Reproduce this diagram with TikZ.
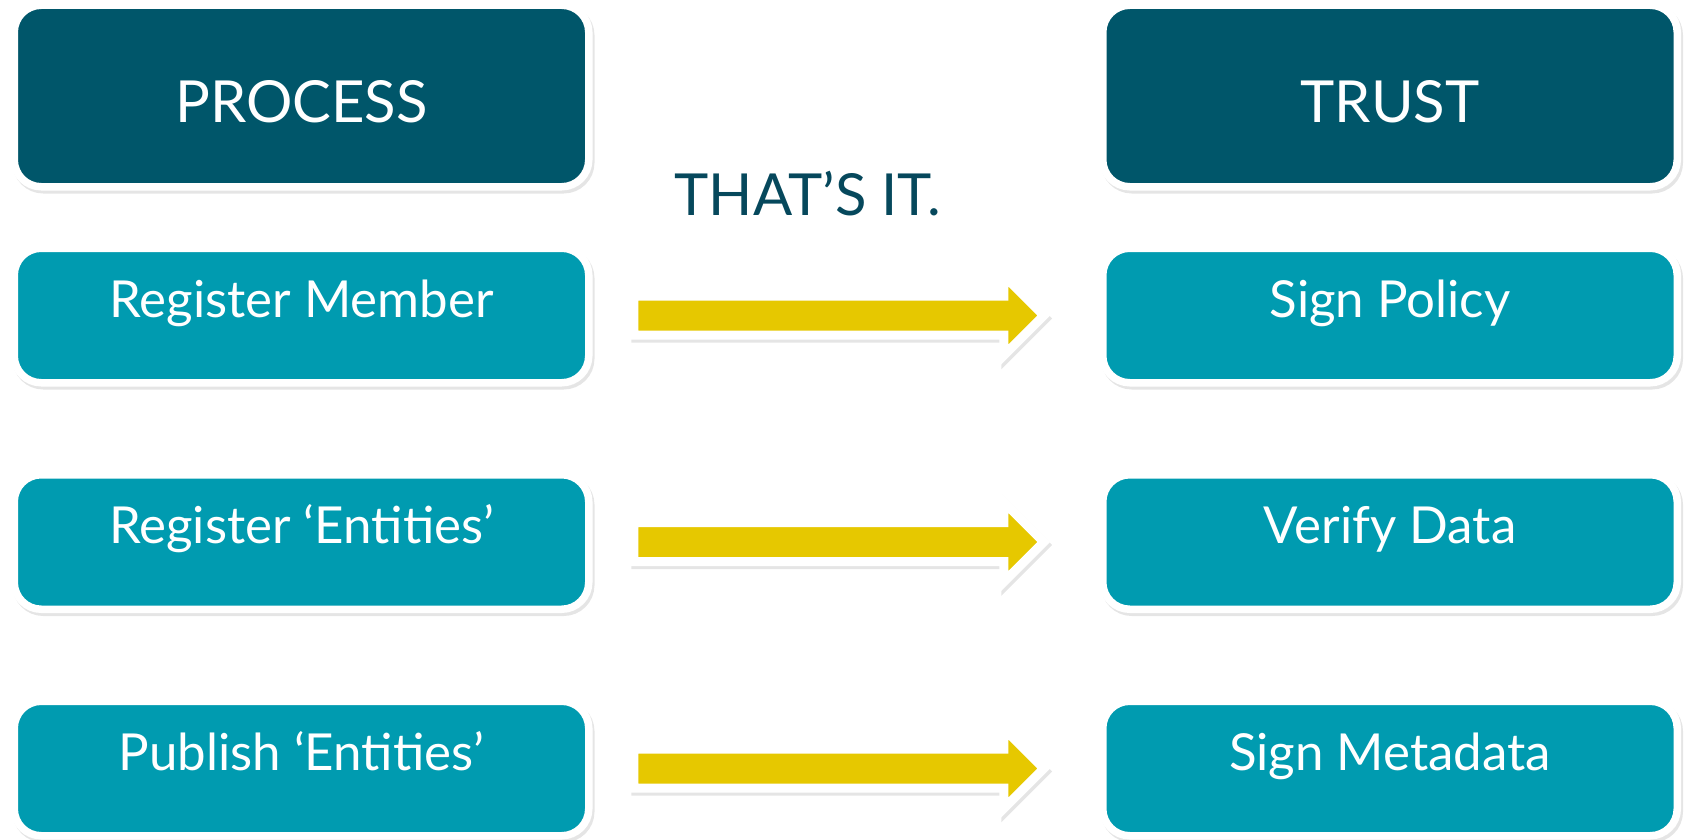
\documentclass[tikz,border=0pt]{standalone}
\usepackage{fontspec}
\setmainfont{Lato}
\usetikzlibrary{shadows}

\definecolor{headteal}{RGB}{0,86,106}
\definecolor{rowteal}{RGB}{0,155,176}
\definecolor{arrowgold}{RGB}{230,200,0}
\definecolor{textteal}{RGB}{6,72,92}

\tikzset{
  tile/.style = {rectangle, rounded corners = 27pt, draw = white, line width = 7.5pt,
    text = white, minimum width = 574.5pt, inner sep = 0pt,
    drop shadow = {shadow xshift = 2pt, shadow yshift = -3pt, fill = black!20,
      draw = black!20, line width = 7.5pt}},
  headbox/.style = {tile, fill = headteal, minimum height = 181.5pt,
    font = \fontsize{58}{60}\selectfont, text height = 60pt, text depth = 7pt},
  rowbox/.style = {tile, fill = rowteal, minimum height = 134.5pt,
    font = \fontsize{51}{53}\selectfont, text height = 37pt, text depth = 34pt},
  fatarrow/.style = {fill = arrowgold, draw = white, line width = 9pt, line join = miter,
    drop shadow = {shadow xshift = 2pt, shadow yshift = -3pt, fill = black!20,
      draw = black!20, line width = 9pt}}
}

\begin{document}
\begin{tikzpicture}[x = 1pt, y = 1pt]
  \useasboundingbox (0, 0) rectangle (1684, -840);
  \node[headbox] at (301.5, -96) (process) {PROCESS};
  \node[headbox] at (1390, -96) (trust) {TRUST};
  \node[text = textteal, font = \fontsize{58}{60}\selectfont, inner sep = 0pt, anchor = base]
    at (808, -215) (thatsit) {THAT'S IT.};
  \node[rowbox] at (301.5, -315.5) (reg) {Register Member};
  \node[rowbox] at (301.5, -542) (ent) {Register `Entities'};
  \node[rowbox] at (301.5, -768.5) (pub) {Publish `Entities'};
  \node[rowbox] at (1390, -315.5) (sign) {Sign Policy};
  \node[rowbox] at (1390, -542) (verify) {Verify Data};
  \node[rowbox] at (1390, -768.5) (meta) {Sign Metadata};
  \foreach \l/\r in {reg/sign, ent/verify, pub/meta}
  {
  \path (\l.east) -- coordinate (\l-mid) (\r.west);
  \draw[fatarrow, shift = {(\l-mid)}] (-212, 19.5) -- (158, 19.5) -- (158, 40) -- (198, 0)
    -- (158, -40) -- (158, -19.5) -- (-212, -19.5) -- cycle;
  }
\end{tikzpicture}
\end{document}
